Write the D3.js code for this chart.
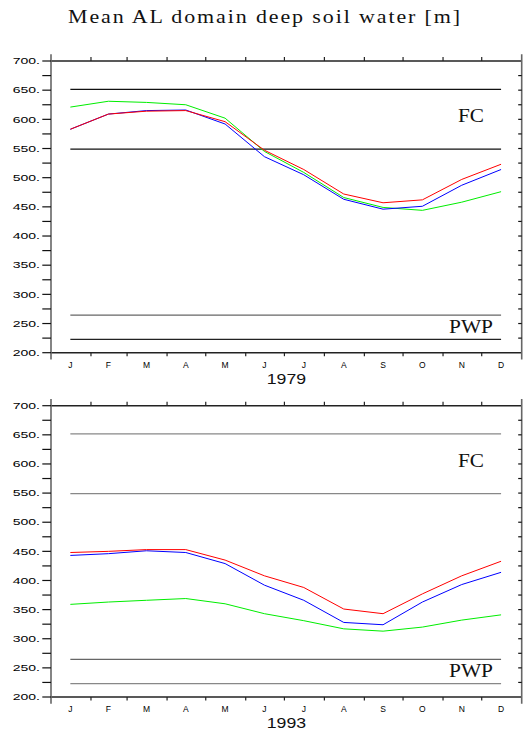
<!DOCTYPE html>
<html>
<head>
<meta charset="utf-8">
<script src="https://cdn.jsdelivr.net/npm/d3@7"></script>
<style>
  body { margin: 0; background: #fff; }
  svg { display: block; }
</style>
</head>
<body>
<div id="container"></div>
<script>
/**
 * DATA
 * */
const months = ['J', 'F', 'M', 'A', 'M', 'J', 'J', 'A', 'S', 'O', 'N', 'D'];
const monthDays = [31, 28, 31, 30, 31, 30, 31, 31, 30, 31, 30, 31];
const yTicks = [200, 250, 300, 350, 400, 450, 500, 550, 600, 650, 700];

const red1979 = [583, 609, 614, 615, 596, 547, 514, 472, 457, 462, 497, 523];
const blue1979 = [583, 609, 615, 616, 592, 536, 505, 463, 446, 451, 487, 514];
const green1979 = [621, 631, 629, 625, 602, 545, 509, 466, 449, 444, 458, 476];

const red1993 = [448, 450, 453, 453, 435, 408, 388, 351, 343, 377, 408, 433];
const blue1993 = [443, 446, 451, 448, 429, 392, 366, 328, 324, 363, 393, 414];
const green1993 = [359, 363, 366, 369, 360, 343, 331, 317, 313, 320, 332, 341];

const fcLevels = [651.5, 549];
const pwpLevels = [264.5, 223];

/**
 * CONSTANTS
 * */
const width = 525, height = 731;
const left = 51, right = 521.7;

// month boundaries and mid points in days
const bounds = [0];
monthDays.forEach(d => bounds.push(bounds[bounds.length - 1] + d));
const mids = monthDays.map((d, i) => bounds[i] + (d - 1) / 2);

const svg = d3.select('#container')
  .append('svg')
  .attr('width', width)
  .attr('height', height);

// title
svg.append('text')
  .attr('x', 68).attr('y', 23)
  .attr('textLength', 394).attr('lengthAdjust', 'spacingAndGlyphs')
  .style('font-family', 'Liberation Serif, serif')
  .style('font-size', '18.5px')
  .style('letter-spacing', '1.6px')
  .attr('fill', '#111')
  .text('Mean AL domain deep soil water [m]');

const panels = [
  { top: 61, bottom: 352.7, year: '1979', series: [green1979, blue1979, red1979],
    refColors: ['#111', '#111', '#666', '#222'] },
  { top: 405.7, bottom: 697, year: '1993', series: [green1993, blue1993, red1993],
    refColors: ['#888', '#888', '#666', '#888'] }
];
const seriesColors = ['#00ee00', '#0000ff', '#ff0000'];

panels.forEach(drawPanel);

function drawPanel(p) {
  const x = d3.scaleLinear().domain([0, 365]).range([left, right]);
  const y = d3.scaleLinear().domain([200, 700]).range([p.bottom, p.top]);
  const g = svg.append('g');

  // reference lines FC / PWP
  const levels = fcLevels.concat(pwpLevels);
  g.selectAll('.ref')
    .data(levels)
    .join('line')
    .attr('class', 'ref')
    .attr('x1', x(mids[0])).attr('x2', x(mids[11]))
    .attr('y1', d => y(d)).attr('y2', d => y(d))
    .attr('stroke', (d, i) => p.refColors[i])
    .attr('stroke-width', 1.2);

  // series lines
  const line = d3.line()
    .x((d, i) => x(mids[i]))
    .y(d => y(d));
  g.selectAll('.series')
    .data(p.series)
    .join('path')
    .attr('class', 'series')
    .attr('d', d => line(d))
    .attr('fill', 'none')
    .attr('stroke', (d, i) => seriesColors[i])
    .attr('stroke-width', 1);

  // labels FC / PWP
  g.append('text')
    .attr('x', 458).attr('y', y(595))
    .attr('textLength', 26).attr('lengthAdjust', 'spacingAndGlyphs')
    .style('font-family', 'Liberation Serif, serif').style('font-size', '18px')
    .attr('fill', '#111')
    .text('FC');
  g.append('text')
    .attr('x', 449).attr('y', y(234))
    .attr('textLength', 44).attr('lengthAdjust', 'spacingAndGlyphs')
    .style('font-family', 'Liberation Serif, serif').style('font-size', '18px')
    .attr('fill', '#111')
    .text('PWP');

  // frame: horizontal axes
  g.append('line')
    .attr('x1', left).attr('x2', right).attr('y1', p.top).attr('y2', p.top)
    .attr('stroke', '#222').attr('stroke-width', 1.5);
  g.append('line')
    .attr('x1', left).attr('x2', right).attr('y1', p.bottom).attr('y2', p.bottom)
    .attr('stroke', '#222').attr('stroke-width', 1.5);
  // vertical axes, extended past the corners
  [left, right].forEach(xx => {
    g.append('line')
      .attr('x1', xx).attr('x2', xx)
      .attr('y1', p.top - 6.7).attr('y2', p.bottom + 6.7)
      .attr('stroke', '#666').attr('stroke-width', 1.6);
  });

  // month boundary ticks
  const inner = bounds.slice(1, 12);
  g.selectAll('.ttick')
    .data(inner)
    .join('line')
    .attr('class', 'ttick')
    .attr('x1', d => x(d)).attr('x2', d => x(d))
    .attr('y1', p.top).attr('y2', p.top - 4)
    .attr('stroke', '#222').attr('stroke-width', 1.2);
  g.selectAll('.btick')
    .data(inner)
    .join('line')
    .attr('class', 'btick')
    .attr('x1', d => x(d)).attr('x2', d => x(d))
    .attr('y1', p.bottom).attr('y2', p.bottom + 3.5)
    .attr('stroke', '#222').attr('stroke-width', 1.2);

  // y ticks every 25
  const minor = d3.range(200, 701, 25);
  g.selectAll('.ltick')
    .data(minor)
    .join('line')
    .attr('class', 'ltick')
    .attr('x1', left - 8.7).attr('x2', left)
    .attr('y1', d => y(d)).attr('y2', d => y(d))
    .attr('stroke', '#111').attr('stroke-width', 1.2);
  g.selectAll('.rtick')
    .data(minor.slice(1, -1))
    .join('line')
    .attr('class', 'rtick')
    .attr('x1', right - 3.5).attr('x2', right)
    .attr('y1', d => y(d)).attr('y2', d => y(d))
    .attr('stroke', '#111').attr('stroke-width', 1.2);

  // y labels
  g.selectAll('.ylab')
    .data(yTicks)
    .join('text')
    .attr('class', 'ylab')
    .attr('x', 12.7).attr('y', d => y(d) + 3.2)
    .attr('textLength', 27.3).attr('lengthAdjust', 'spacingAndGlyphs')
    .style('font-family', 'Liberation Sans, sans-serif').style('font-size', '9px')
    .attr('fill', '#000')
    .text(d => d + '.');

  // month labels
  g.selectAll('.mlab')
    .data(months)
    .join('text')
    .attr('class', 'mlab')
    .attr('x', (d, i) => x(mids[i])).attr('y', p.bottom + 15)
    .attr('text-anchor', 'middle')
    .style('font-family', 'Liberation Sans, sans-serif').style('font-size', '8.5px')
    .attr('fill', '#000')
    .text(d => d);

  // year label
  g.append('text')
    .attr('x', (left + right) / 2 - 19.6).attr('y', p.bottom + 31.3)
    .attr('textLength', 39.3).attr('lengthAdjust', 'spacingAndGlyphs')
    .style('font-family', 'Liberation Sans, sans-serif').style('font-size', '14px')
    .attr('fill', '#111')
    .text(p.year);
}
</script>
</body>
</html>
